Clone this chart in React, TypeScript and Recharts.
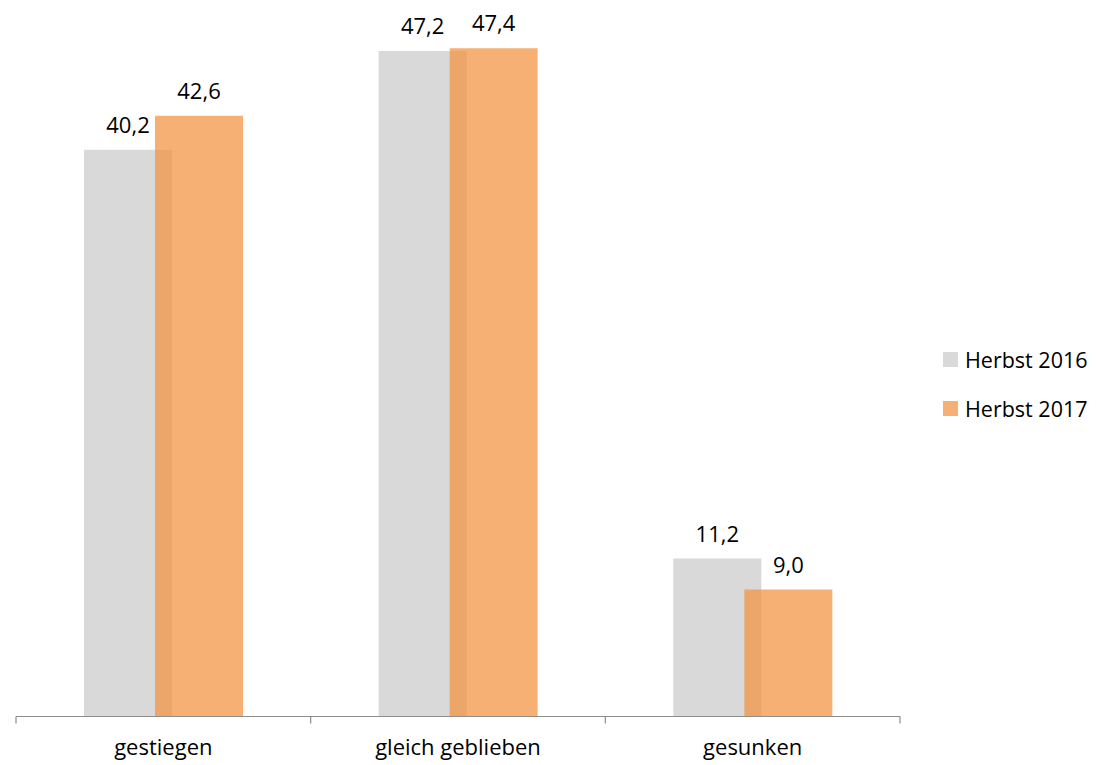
import { BarChart, Bar, XAxis, YAxis, LabelList } from 'recharts';

const categories = ['gestiegen', 'gleich geblieben', 'gesunken'];
const herbst2016 = [40.2, 47.2, 11.2];
const herbst2017 = [42.6, 47.4, 9.0];
const seriesNames = ['Herbst 2016', 'Herbst 2017'];

const GRAY = '#d9d9d9';
const ORANGE = '#f49443';
const ORANGE_SOLID = '#f7b074';
const FONT = '"Open Sans", sans-serif';

const CHART_W = 1097;
const CHART_H = 765;
const MARGIN = { top: 11.5, right: 197, left: 16, bottom: 8.5 };
const BAND = (CHART_W - MARGIN.left - MARGIN.right) / categories.length;

const data = categories.map((name, i) => ({
  name,
  h2016: herbst2016[i],
  h2017: herbst2017[i],
}));

const fmt = (v: any) => Number(v).toFixed(1).replace('.', ',');

// category label + tick marks on the band boundaries (Excel style)
const CategoryTick = (props: any) => {
  const { x, y, payload, index } = props;
  const left = x - BAND / 2;
  const right = x + BAND / 2;
  return (
    <g>
      <line x1={left} x2={left} y1={y} y2={y + 7} stroke="#8c8c8c" strokeWidth={1.2} />
      {index === categories.length - 1 && (
        <line x1={right} x2={right} y1={y} y2={y + 7} stroke="#8c8c8c" strokeWidth={1.2} />
      )}
      <text x={x} y={y + 38} textAnchor="middle" fill="#000" fontSize={22} fontFamily={FONT}>
        {payload.value}
      </text>
    </g>
  );
};

export default function App() {
  return (
    <div style={{ position: 'relative', width: CHART_W, height: CHART_H, margin: '-8px 0 0 -8px' }}>
      <BarChart
        width={CHART_W}
        height={CHART_H}
        data={data}
        margin={MARGIN}
        barSize={88}
        barGap={-17}
      >
        <XAxis
          dataKey="name"
          height={40}
          interval={0}
          tickSize={0}
          tickMargin={0}
          tickLine={false}
          axisLine={{ stroke: '#8c8c8c', strokeWidth: 1.2 }}
          tick={<CategoryTick />}
        />
        <YAxis hide domain={[0, 50]} />
        <Bar dataKey="h2016" name={seriesNames[0]} fill={GRAY} isAnimationActive={false}>
          <LabelList
            dataKey="h2016"
            position="top"
            offset={17}
            formatter={fmt}
            style={{ fill: '#000', fontSize: 22, fontFamily: FONT }}
          />
        </Bar>
        <Bar dataKey="h2017" name={seriesNames[1]} fill={ORANGE} fillOpacity={0.74} isAnimationActive={false}>
          <LabelList
            dataKey="h2017"
            position="top"
            offset={17}
            formatter={fmt}
            style={{ fill: '#000', fontSize: 22, fontFamily: FONT }}
          />
        </Bar>
      </BarChart>
      <div
        style={{
          position: 'absolute',
          left: 943,
          top: 335,
          fontFamily: FONT,
          fontSize: 21.5,
          color: '#000',
        }}
      >
        {seriesNames.map((s, i) => (
          <div key={s} style={{ display: 'flex', alignItems: 'center', height: 49 }}>
            <span
              style={{
                display: 'inline-block',
                width: 15,
                height: 15,
                background: i === 0 ? GRAY : ORANGE_SOLID,
                marginRight: 7,
              }}
            />
            <span style={{ whiteSpace: 'nowrap' }}>{s}</span>
          </div>
        ))}
      </div>
    </div>
  );
}
